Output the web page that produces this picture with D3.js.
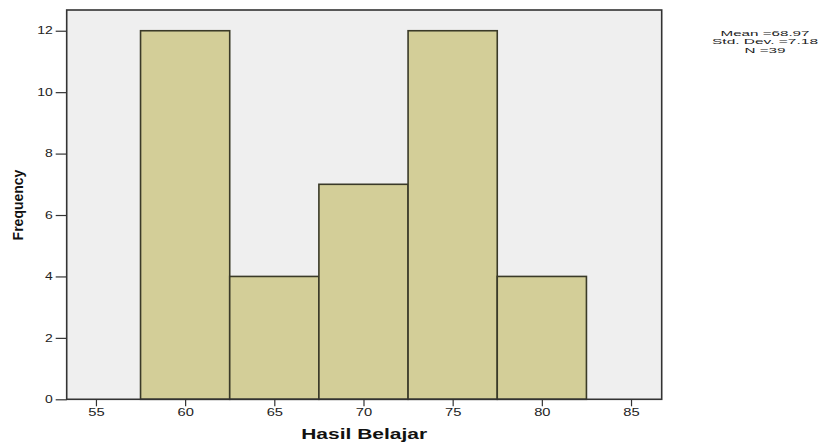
<!DOCTYPE html>
<html><head><meta charset="utf-8">
<script src="https://cdn.jsdelivr.net/npm/d3@7"></script>
<style>body{margin:0;background:#fff}svg{display:block}text{font-family:"Liberation Sans",Arial,sans-serif}</style>
</head><body><svg id="c" width="821" height="443"></svg>
<script>
const binStarts = [57.5, 62.5, 67.5, 72.5, 77.5];
const binWidth = 5;
const frequencies = [12, 4, 7, 12, 4];
const xTicks = [55, 60, 65, 70, 75, 80, 85];
const yTicks = [0, 2, 4, 6, 8, 10, 12];
const statLines = ["Mean =68.97", "Std. Dev. =7.18", "N =39"];
const xLabel = "Hasil Belajar", yLabel = "Frequency";

const svg = d3.select("#c");
const L = 66.7, R = 661.7, T = 10, B = 399.3;
const SX = 1.4;
const x = d3.scaleLinear().domain([53.36, 86.72]).range([L, R]);
const y = d3.scaleLinear().domain([0, 12.675]).range([B, T]);

svg.append("rect").attr("x", L).attr("y", T).attr("width", R - L).attr("height", B - T).attr("fill", "#efefef");

svg.selectAll("rect.bar").data(binStarts).join("rect").attr("class", "bar")
  .attr("x", d => x(d)).attr("width", d => x(d + binWidth) - x(d))
  .attr("y", (d, i) => y(frequencies[i])).attr("height", (d, i) => y(0) - y(frequencies[i]))
  .attr("fill", "#d3ce98").attr("stroke", "#3a3a28").attr("stroke-width", 1.6);

svg.append("rect").attr("x", L).attr("y", T).attr("width", R - L).attr("height", B - T)
  .attr("fill", "none").attr("stroke", "#333").attr("stroke-width", 1.6);

const ya = svg.append("g").attr("transform", `translate(${L},0)`)
  .call(d3.axisLeft(y).tickValues(yTicks).tickFormat(d3.format("d")).tickSize(11).tickPadding(3));
ya.select(".domain").remove();
ya.selectAll("line").attr("stroke", "#333").attr("stroke-width", 1.2);
ya.selectAll("text").attr("font-size", 10).attr("fill", "#222")
  .each(function(){ const t = d3.select(this); t.attr("x", (+t.attr("x")) / SX).attr("transform", `scale(${SX},1)`); });

const xa = svg.append("g").attr("transform", `translate(0,${B})`)
  .call(d3.axisBottom(x).tickValues(xTicks).tickFormat(d3.format("d")).tickSize(7).tickPadding(2));
xa.select(".domain").remove();
xa.selectAll("line").attr("stroke", "#333").attr("stroke-width", 1.2);
xa.selectAll("text").attr("font-size", 10.5).attr("fill", "#222").attr("transform", `scale(${SX},1)`);

svg.append("text").attr("transform", `translate(${(L + R) / 2},439) scale(${SX},1)`)
  .attr("text-anchor", "middle").attr("font-size", 15).attr("font-weight", "bold").attr("fill", "#111").text(xLabel);

svg.append("text").attr("transform", `translate(23,205) rotate(-90)`)
  .attr("text-anchor", "middle").attr("font-size", 14).attr("font-weight", "bold").attr("fill", "#111").text(yLabel);

const statLen = [89, 106, 41];
svg.selectAll("text.stat").data(statLines).join("text").attr("class", "stat")
  .attr("x", (d, i) => 765 - statLen[i] / 2).attr("y", (d, i) => 35.5 + i * 8.5)
  .attr("font-size", 8).attr("fill", "#222")
  .attr("textLength", (d, i) => statLen[i]).attr("lengthAdjust", "spacingAndGlyphs").text(d => d);
</script></body></html>
